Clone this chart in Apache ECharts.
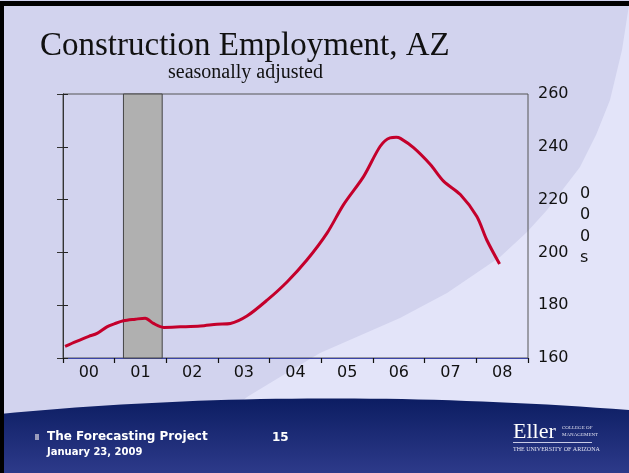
<!DOCTYPE html>
<html>
<head>
<meta charset="utf-8">
<script src="https://cdn.jsdelivr.net/npm/echarts@6/dist/echarts.min.js"></script>
<style>
  html, body { margin: 0; padding: 0; background: #e3e4f9; }
  #chart { width: 629px; height: 473px; }
</style>
</head>
<body>
<div id="chart"></div>
<script>
var yearLabels = ['00', '01', '02', '03', '04', '05', '06', '07', '08'];
// time in years since Jan 2000, thousands of jobs
var years = [0.04, 0.25, 0.5, 0.66, 0.85, 1.0, 1.17, 1.4, 1.59, 1.75, 1.95, 2.27, 2.66, 2.98,
             3.24, 3.56, 3.95, 4.34, 4.72, 5.11, 5.43, 5.82, 6.14, 6.33, 6.45, 6.53, 6.79,
             7.11, 7.37, 7.69, 8.01, 8.2, 8.45];
var employment = [164.4, 166.2, 168.2, 169.3, 171.8, 173.0, 174.1, 174.7, 175.1, 173.1, 171.6,
                  171.8, 172.1, 172.8, 173.1, 175.9, 181.9, 188.9, 197.1, 207.3, 218.1, 228.8,
                  240.2, 243.4, 243.6, 243.2, 239.6, 233.3, 226.9, 221.9, 213.6, 204.8, 195.6];
var recession = [1.17, 1.92];

var lineData = [];
for (var i = 0; i < years.length; i++) {
    lineData.push([years[i], employment[i]]);
}

// slide background shapes
function quad(p0, p1, p2, n) {
    var pts = [];
    for (var k = 0; k <= n; k++) {
        var t = k / n, u = 1 - t;
        pts.push([
            u * u * p0[0] + 2 * u * t * p1[0] + t * t * p2[0],
            u * u * p0[1] + 2 * u * t * p1[1] + t * t * p2[1]
        ]);
    }
    return pts;
}
var swoosh = [[629, 5], [622, 50], [610, 100], [596, 135], [580, 167], [547, 210], [527, 232],
              [500, 257], [447, 293], [400, 318], [320, 353], [280, 377], [247, 397], [230, 412]];
var darkPts = [[0, 0], [629, 0]].concat(swoosh).concat([[0, 420]]);
var footPts = quad([0, 414], [300, 385], [629, 410], 40).concat([[629, 473], [0, 473]]);

var myChart = echarts.init(document.getElementById('chart'));

var option = {
    backgroundColor: '#e3e4f9',
    animation: false,
    graphic: [
        {
            type: 'polygon', z: -5, silent: true,
            shape: { points: darkPts, smooth: 0 },
            style: { fill: '#d2d3ee' }
        },
        {
            type: 'polygon', z: -4, silent: true,
            shape: { points: footPts },
            style: {
                fill: new echarts.graphic.LinearGradient(0, 0, 0, 1, [
                    { offset: 0, color: '#0c1d62' },
                    { offset: 1, color: '#2d3a8a' }
                ])
            }
        },
        { type: 'rect', z: 50, silent: true, shape: { x: 0, y: 1, width: 629, height: 5 }, style: { fill: '#000' } },
        { type: 'rect', z: 50, silent: true, shape: { x: 0, y: 1, width: 4, height: 472 }, style: { fill: '#000' } },
        { type: 'rect', z: 50, silent: true, shape: { x: 35, y: 434, width: 4, height: 6 }, style: { fill: '#9a9cbc' } },
        {
            type: 'text', z: 50, style: {
                x: 47, y: 437, text: 'The Forecasting Project', fill: '#fff',
                font: 'bold 12px "DejaVu Sans"', textVerticalAlign: 'middle'
            }
        },
        {
            type: 'text', z: 50, style: {
                x: 47, y: 452, text: 'January 23, 2009', fill: '#fff',
                font: 'bold 10px "DejaVu Sans"', textVerticalAlign: 'middle'
            }
        },
        {
            type: 'text', z: 50, style: {
                x: 272, y: 438, text: '15', fill: '#fff',
                font: 'bold 12px "DejaVu Sans"', textVerticalAlign: 'middle'
            }
        },
        {
            type: 'text', z: 50, style: {
                x: 513, y: 432, text: 'Eller', fill: '#fff',
                font: '22px "Liberation Serif"', textVerticalAlign: 'middle'
            }
        },
        {
            type: 'text', z: 50, style: {
                x: 562, y: 428, text: 'COLLEGE OF', fill: '#dfe0f0',
                font: '5px "Liberation Serif"', textVerticalAlign: 'middle'
            }
        },
        {
            type: 'text', z: 50, style: {
                x: 562, y: 435, text: 'MANAGEMENT', fill: '#dfe0f0',
                font: '5px "Liberation Serif"', textVerticalAlign: 'middle'
            }
        },
        { type: 'rect', z: 50, silent: true, shape: { x: 513, y: 442, width: 79, height: 1 }, style: { fill: '#c9cbe6' } },
        {
            type: 'text', z: 50, style: {
                x: 513, y: 449, text: 'THE UNIVERSITY OF ARIZONA', fill: '#dfe0f0',
                font: '6px "Liberation Serif"', textVerticalAlign: 'middle'
            }
        }
    ],
    title: [
        {
            text: 'Construction Employment, AZ',
            left: 40, top: 30, padding: 0,
            textStyle: { fontFamily: 'Liberation Serif', fontSize: 33, fontWeight: 'normal', color: '#111' }
        },
        {
            text: 'seasonally adjusted',
            left: 168, top: 63, padding: 0,
            textStyle: { fontFamily: 'Liberation Serif', fontSize: 20, fontWeight: 'normal', color: '#111' }
        }
    ],
    grid: {
        left: 63, right: 101, top: 94, bottom: 115,
        show: true, borderColor: '#555', borderWidth: 1, backgroundColor: 'transparent'
    },
    xAxis: [
        {
            type: 'category', data: yearLabels, position: 'bottom', boundaryGap: true,
            axisLine: { show: true, lineStyle: { color: '#3b44a8', width: 1 } },
            axisTick: { show: true, interval: 0, alignWithLabel: false, length: 5, lineStyle: { color: '#111', width: 1.2 } },
            axisLabel: { fontFamily: 'DejaVu Sans', fontSize: 16, color: '#111', margin: 7 },
            splitLine: { show: false }
        },
        {
            type: 'value', min: 0, max: 9, show: false, position: 'bottom'
        }
    ],
    yAxis: [
        {
            type: 'value', position: 'right', min: 160, max: 260, interval: 20,
            name: '0\n0\n0\ns', nameLocation: 'middle', nameGap: 52, nameRotate: 0,
            nameTextStyle: { fontFamily: 'DejaVu Sans', fontSize: 16, color: '#111', lineHeight: 21.5 },
            axisLine: { show: true, lineStyle: { color: '#555' } },
            axisTick: { show: true, length: 5, lineStyle: { color: '#222', width: 1 } },
            axisLabel: { fontFamily: 'DejaVu Sans', fontSize: 16, color: '#111', margin: 10 },
            splitLine: { show: false }
        },
        {
            type: 'value', position: 'left', min: 160, max: 260, interval: 20,
            axisLine: { show: true, lineStyle: { color: '#333' } },
            axisTick: { show: true, length: 6, lineStyle: { color: '#333' } },
            axisLabel: { show: false },
            splitLine: { show: false }
        }
    ],
    series: [
        {
            type: 'line', xAxisIndex: 1, yAxisIndex: 0,
            data: lineData, smooth: 0.3, showSymbol: false,
            lineStyle: { color: '#c4002b', width: 3 },
            markArea: {
                silent: true,
                itemStyle: { color: '#b0b0b0', borderColor: '#444', borderWidth: 1, opacity: 1 },
                data: [[{ xAxis: recession[0] }, { xAxis: recession[1] }]]
            }
        }
    ]
};
myChart.setOption(option);
</script>
</body>
</html>
